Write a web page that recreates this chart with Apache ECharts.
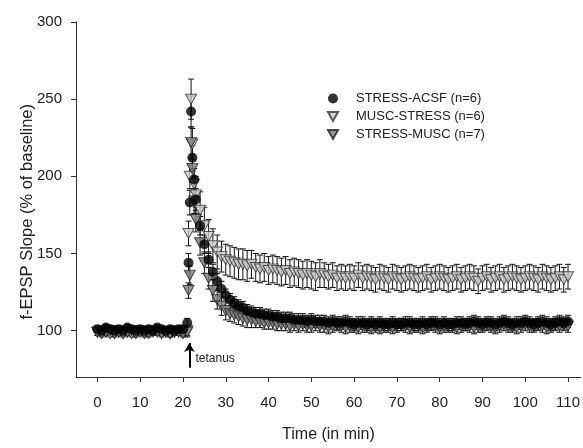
<!DOCTYPE html>
<html><head><meta charset="utf-8">
<script src="https://cdn.jsdelivr.net/npm/echarts@6/dist/echarts.min.js"></script>
<style>html,body{margin:0;padding:0;background:#fff}#c{width:583px;height:448px}</style>
</head><body><div id="c"></div>
<script>
var time = [0,1,2,3,4,5,6,7,8,9,10,11,12,13,14,15,16,17,18,19,20,
  21,21.3,21.6,21.9,22.2,22.6,
  23,24,25,26,27,28,29,30,31,32,33,34,35,36,37,38,39,40,41,42,43,44,45,46,47,48,49,50,51,52,
  53,54,55,56,57,58,59,60,61,62,63,64,65,66,67,68,69,70,71,72,73,74,75,76,77,78,79,80,81,82,
  83,84,85,86,87,88,89,90,91,92,93,94,95,96,97,98,99,100,101,102,103,104,105,106,107,108,109,110];

var acsfMean = [101,100,102,101,100,101,100,102,101,100,101,100,101,100,102,101,100,101,100,101,101,
  105,144,183,242,212,198,
  185,168,156,146,138,132,127,123,120,118,
  116,115,113,112,111,111,110,110,109,109,
  108,108,108,107,107,107,106,107,106,106,
  106,105,106,105,105,106,105,104,105,105,
  104,105,104,105,104,104,105,104,104,105,
  105,104,104,105,104,105,105,104,105,104,
  104,105,105,104,105,106,105,104,105,105,
  104,105,106,105,104,105,105,106,105,104,
  105,106,105,104,105,106,105,106];
var acsfErr = [2,2,2,2,2,2,2,2,2,2,2,2,2,2,2,2,2,2,2,2,2,
  3,6,8,10,8,7,
  7,6,6,5,5,5,5,4,4,4,
  4,4,4,4,4,4,4,4,4,4,
  4,4,4,4,4,4,4,4,4,4,
  4,4,4,4,4,4,4,4,4,4,
  4,4,4,4,4,4,4,4,4,4,
  4,4,4,4,4,4,4,4,4,4,
  4,4,4,4,4,4,4,4,4,4,
  4,4,4,4,4,4,4,4,4,4,
  4,4,4,4,4,4,4,4];

var muscStressMean = [99,100,99,98,100,99,100,99,98,99,100,99,98,99,100,99,99,98,99,100,99,
  100,163,200,250,221,195,
  188,178,168,161,155,151,148,146,145,144,
  143,143,142,143,141,140,141,139,140,139,
  138,139,137,138,137,136,137,136,135,137,
  136,135,136,134,135,134,135,134,136,134,
  135,134,133,135,134,133,135,134,133,134,
  135,134,133,134,135,133,134,135,134,133,
  134,135,133,134,135,134,132,134,135,133,
  134,135,133,134,135,134,133,134,135,134,
  133,135,134,133,134,135,133,135];
var muscStressErr = [2,2,2,2,2,2,2,2,2,2,2,2,2,2,2,2,2,2,2,2,2,
  3,8,8,13,10,10,
  12,12,12,11,11,11,10,10,10,10,
  10,10,10,9,9,9,9,9,9,9,
  9,9,9,9,9,9,9,9,9,9,
  8,8,8,8,8,8,8,8,8,8,
  8,8,8,8,8,8,8,8,8,8,
  8,8,8,8,8,8,8,8,8,8,
  8,8,8,8,8,8,8,8,8,8,
  8,8,8,8,8,8,8,8,8,8,
  8,8,8,8,8,8,8,8];

var stressMuscMean = [99,98,99,100,98,99,98,99,100,98,99,98,99,100,99,98,99,98,99,99,98,
  99,126,136,222,205,184,
  172,157,144,134,126,120,116,113,111,110,
  109,108,107,107,106,106,105,105,105,104,
  104,104,103,104,103,104,103,103,104,103,
  103,102,103,104,103,102,103,103,102,103,
  103,102,103,102,103,103,102,103,104,103,
  102,103,103,102,103,104,103,102,103,103,
  103,102,103,104,103,102,103,103,104,103,
  102,103,104,103,103,102,103,104,103,103,
  104,103,102,103,104,103,104,103];
var stressMuscErr = [2,2,2,2,2,2,2,2,2,2,2,2,2,2,2,2,2,2,2,2,2,
  3,5,6,10,9,8,
  8,8,7,7,7,6,6,6,5,5,
  5,5,5,5,4,4,4,4,4,4,
  4,4,4,4,4,4,4,4,4,4,
  4,4,4,4,4,4,4,4,4,4,
  4,4,4,4,4,4,4,4,4,4,
  4,4,4,4,4,4,4,4,4,4,
  4,4,4,4,4,4,4,4,4,4,
  4,4,4,4,4,4,4,4,4,4,
  4,4,4,4,4,4,4,4];

var seriesNames = ['STRESS-ACSF (n=6)','MUSC-STRESS (n=6)','STRESS-MUSC (n=7)'];
var xTicks = [0,10,20,30,40,50,60,70,80,90,100,110];
var yTicks = [100,150,200,250,300];
var tetanusTime = 21.5;

var FONT = 'Liberation Sans, Arial, sans-serif';
var TRI = 'path://M0,0 L10,0 L5,9 Z';

function pts(m){ return time.map(function(t,i){ return [t, m[i]]; }); }
function errs(m,e){ return time.map(function(t,i){ return [t, m[i], e[i]]; }); }

function errorSeries(m,e,z){
  return {
    type:'custom', silent:true, z:z,
    data: errs(m,e),
    encode:{x:0,y:1},
    renderItem:function(params, api){
      var x = api.value(0), y = api.value(1), d = api.value(2);
      var top = api.coord([x, y + d]);
      var bot = api.coord([x, y - d]);
      var w = 3;
      var st = {stroke:'#111', lineWidth:1};
      return {type:'group', children:[
        {type:'line', shape:{x1:top[0], y1:top[1], x2:bot[0], y2:bot[1]}, style:st},
        {type:'line', shape:{x1:top[0]-w, y1:top[1], x2:top[0]+w, y2:top[1]}, style:st},
        {type:'line', shape:{x1:bot[0]-w, y1:bot[1], x2:bot[0]+w, y2:bot[1]}, style:st}
      ]};
    }
  };
}

var chart = echarts.init(document.getElementById('c'), null, {renderer:'canvas'});
chart.setOption({
  animation:false,
  backgroundColor:'#fff',
  grid:{left:76, right:0, top:22, bottom:65, containLabel:false},
  legend:{
    left:322, top:87, orient:'vertical', itemGap:5, itemWidth:10, itemHeight:10,
    textStyle:{fontFamily:FONT, fontSize:13, color:'#222', padding:[0,0,0,13]},
    data:[
      {name:seriesNames[0], icon:'circle'},
      {name:seriesNames[1], icon:TRI},
      {name:seriesNames[2], icon:TRI}
    ]
  },
  xAxis:{
    type:'value', min:-5, max:113,
    axisLine:{show:true, onZero:false, lineStyle:{color:'#333', width:1}},
    axisTick:{show:true, inside:false, length:5, customValues:xTicks, lineStyle:{color:'#333'}},
    axisLabel:{customValues:xTicks, fontFamily:FONT, fontSize:15, color:'#222', margin:18},
    splitLine:{show:false},
    name:'Time (in min)', nameLocation:'middle', nameGap:50,
    nameTextStyle:{fontFamily:FONT, fontSize:16, color:'#222'}
  },
  yAxis:{
    type:'value', min:70, max:300,
    axisLine:{show:true, onZero:false, lineStyle:{color:'#333', width:1}},
    axisTick:{show:true, inside:false, length:5, customValues:yTicks, lineStyle:{color:'#333'}},
    axisLabel:{customValues:yTicks, fontFamily:FONT, fontSize:15, color:'#222', margin:14},
    splitLine:{show:false}
  },
  graphic:[{
    type:'text', left:19, top:104, rotation:Math.PI/2,
    style:{text:'f-EPSP Slope (% of baseline)', font:'16.5px '+FONT, fill:'#222'}
  }],
  series:[
    errorSeries(muscStressMean, muscStressErr, 1),
    errorSeries(stressMuscMean, stressMuscErr, 1),
    errorSeries(acsfMean, acsfErr, 1),
    {
      name:seriesNames[1], type:'scatter', z:2, symbol:TRI, symbolSize:[11,10],
      itemStyle:{color:'#cdcdcd', borderColor:'#333', borderWidth:1},
      data:pts(muscStressMean)
    },
    {
      name:seriesNames[2], type:'scatter', z:3, symbol:TRI, symbolSize:[11,10],
      itemStyle:{color:'#7d7d7d', borderColor:'#222', borderWidth:1},
      data:pts(stressMuscMean)
    },
    {
      name:seriesNames[0], type:'scatter', z:4, symbol:'circle', symbolSize:10,
      itemStyle:{color:'#000', borderColor:'#000', borderWidth:0},
      data:pts(acsfMean),
      markLine:{
        silent:true, symbol:['none','arrow'], symbolSize:[8,9],
        lineStyle:{color:'#000', width:2, type:'solid'},
        label:{show:false},
        data:[[{coord:[tetanusTime,76]},{coord:[tetanusTime,92]}]]
      },
      markPoint:{
        silent:true, symbol:'rect', symbolSize:[1,1],
        itemStyle:{color:'rgba(255,255,255,0)'},
        label:{show:true, position:'right', distance:0,
               formatter:'tetanus', fontFamily:FONT, fontSize:12, color:'#222'},
        data:[{coord:[22.8,82]}]
      }
    }
  ]
});
</script>
</body></html>
